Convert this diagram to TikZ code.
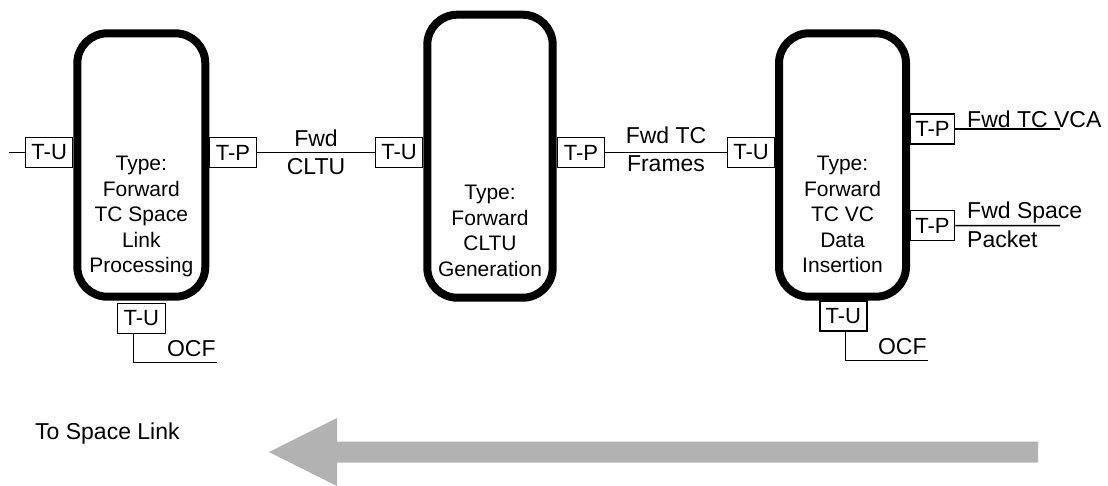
\documentclass[tikz,border=0pt]{standalone}
\usepackage{fontspec}
\setmainfont{Liberation Sans}
\usepackage{tikz}

\begin{document}
\begin{tikzpicture}[x=1pt,y=-1pt,
  funcbox/.style={draw,line width=8pt,rounded corners=30pt,inner sep=0pt},
  boxtext/.style={align=center,inner sep=0pt,anchor=north,font=\fontsize{21}{25.5}\selectfont},
  port/.style={draw,line width=1.5pt,inner sep=0pt,minimum width=47pt,minimum height=30pt,font=\fontsize{22}{26}\selectfont},
  link/.style={line width=1.5pt},
  linklabel/.style={inner sep=0pt,font=\fontsize{23}{28.5}\selectfont}]
\useasboundingbox (0,0) rectangle (1108,485);
\node[funcbox,minimum width=128pt,minimum height=263.4pt] (slp) at (141.3,165) {};
\node[funcbox,minimum width=125.4pt,minimum height=283pt] (cg) at (490,156.2) {};
\node[funcbox,minimum width=127pt,minimum height=263.4pt] (vdi) at (842.5,165) {};
\node[boxtext] (slp-txt) at (141.3,156) {Type:\\Forward\\TC Space\\Link\\Processing};
\node[boxtext] (cg-txt) at (490,185) {Type:\\Forward\\CLTU\\Generation};
\node[boxtext] (vdi-txt) at (842.5,156) {Type:\\Forward\\TC VC\\Data\\Insertion};
\node[port] (slp-in) at (49.2,152.5) {T-U};
\node[port] (slp-out) at (233,152.5) {T-P};
\node[port] (cg-in) at (399,152.5) {T-U};
\node[port] (cg-out) at (581,152.5) {T-P};
\node[port] (vdi-in) at (751,152.5) {T-U};
\node[port,minimum width=44pt] (vdi-vca) at (932.5,129) {T-P};
\node[port,minimum width=44pt] (vdi-pkt) at (932.5,225.5) {T-P};
\node[port,minimum width=48pt] (slp-ocf) at (141.3,318.3) {T-U};
\node[port] (vdi-ocf) at (843.3,316.2) {T-U};
\coordinate (feed) at (9.3,152.5);
\coordinate (vca-end) at (1060,129);
\coordinate (pkt-end) at (1060,225.7);
\coordinate (slp-ocf-end) at (217.3,362.7);
\coordinate (vdi-ocf-end) at (928.3,360.7);
\draw[link] (feed) -- (slp-in.west);
\draw[link] (slp-out) -- node[linklabel,align=center] (cltu-lbl) {Fwd\\CLTU} (cg-in);
\draw[link] (cg-out) -- node[linklabel,align=center,yshift=3pt] (frm-lbl) {Fwd TC\\Frames} (vdi-in);
\draw[link] (vdi-vca) -- (vca-end);
\draw[link] (vdi-pkt) -- (pkt-end);
\node[linklabel,anchor=base west] (vca-lbl) at (967,127) {Fwd TC VCA};
\node[linklabel,align=left,anchor=west] (pkt-lbl) at (967,225) {Fwd Space\\Packet};
\draw[link] ([xshift=-8pt]slp-ocf.south) |- (slp-ocf-end)
  node[linklabel,above left,inner xsep=1pt,inner ysep=5pt] (slp-ocf-lbl) {OCF};
\draw[link] ([xshift=2pt]vdi-ocf.south) |- (vdi-ocf-end)
  node[linklabel,above left,inner xsep=1pt,inner ysep=5.5pt] (vdi-ocf-lbl) {OCF};
\fill[black!30] (269,452) -- (337,418) -- (337,441.7) -- (1038,441.7) -- (1038,462.7)
  -- (337,462.7) -- (337,486) -- cycle;
\node[linklabel,anchor=base west] (dir-lbl) at (35,439) {To Space Link};
\end{tikzpicture}
\end{document}
